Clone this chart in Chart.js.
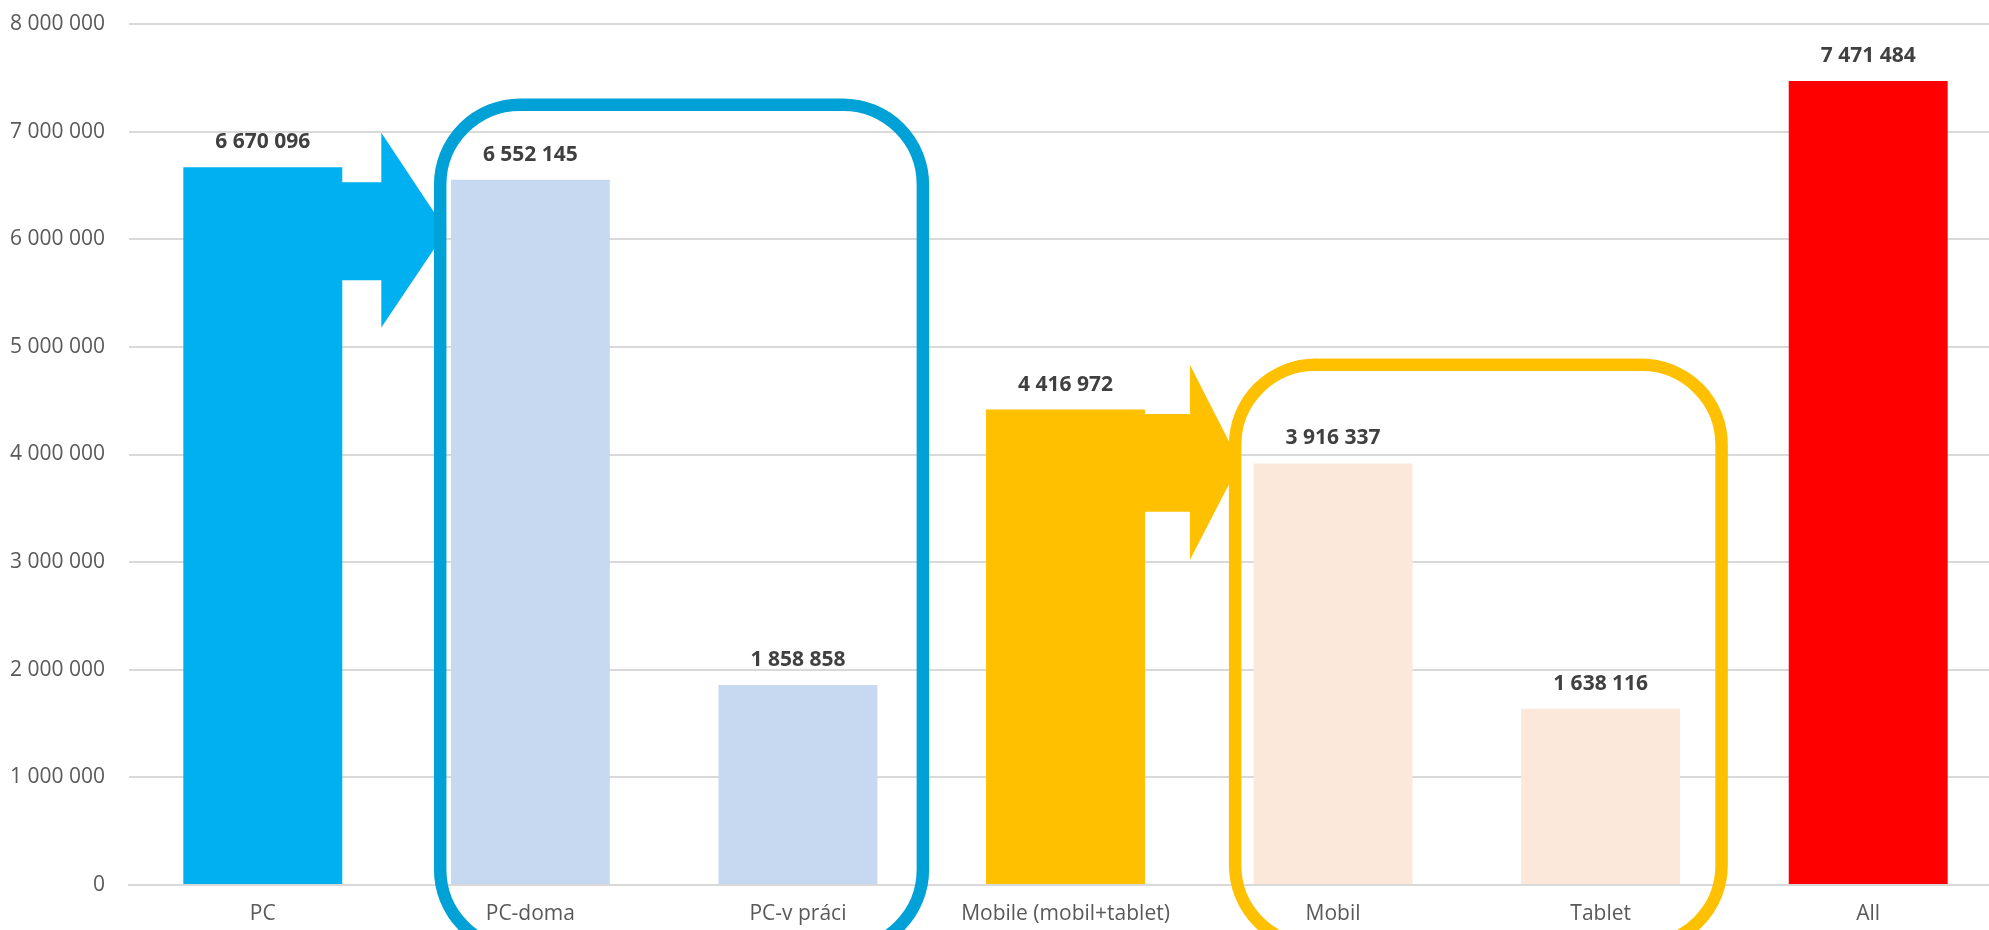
<!DOCTYPE html>
<html lang="cs">
<head>
    <meta charset="UTF-8">
    <title>PC vs Mobile</title>
    <script src="https://cdn.jsdelivr.net/npm/chart.js"></script>
    <style>
        html, body {
            margin: 0;
            padding: 0;
            background: #fff;
            overflow: hidden;
        }
        #wrap {
            width: 2002px;
            height: 930px;
        }
    </style>
</head>
<body>
    <div id="wrap">
        <canvas id="devChart" width="2002" height="930"></canvas>
    </div>

    <script>
        // data
        const categories = ['PC', 'PC-doma', 'PC-v práci', 'Mobile (mobil+tablet)', 'Mobil', 'Tablet', 'All'];
        const users = [6670096, 6552145, 1858858, 4416972, 3916337, 1638116, 7471484];
        const barColors = ['#00B0F0', '#C6D9F0', '#C6D9F0', '#FFC000', '#FBE8DA', '#FBE8DA', '#FF0000'];
        const yTicks = [0, 1000000, 2000000, 3000000, 4000000, 5000000, 6000000, 7000000, 8000000];

        // overlay shapes, in category index / axis value units
        const arrows = [
            { from: 0, base: 0.443, tip: 0.686, shaft: [6530000, 5620000], head: [6990000, 5180000], tipY: 6080000, color: '#00B0F0' },
            { from: 3, base: 3.465, tip: 3.652, shaft: [4377000, 3467000], head: [4833000, 3020000], tipY: 3920000, color: '#FFC000' }
        ];
        const boxes = [
            { x0: 0.663, x1: 2.467, top: 7250000, bottom: -600000, color: '#00A1D6' },
            { x0: 3.634, x1: 5.452, top: 4833000, bottom: -560000, color: '#FFC000' }
        ];

        function spaced(n) {
            return String(n).replace(/\B(?=(\d{3})+(?!\d))/g, ' ');
        }

        const overlay = {
            id: 'overlay',
            afterDatasetsDraw(chart) {
                const ctx = chart.ctx;
                const x = chart.scales.x, y = chart.scales.y;
                const bars = chart.getDatasetMeta(0).data;
                ctx.save();

                // arrows
                arrows.forEach(a => {
                    const x0 = bars[a.from].x;
                    const xb = x.getPixelForValue(a.base);
                    const xt = x.getPixelForValue(a.tip);
                    ctx.beginPath();
                    ctx.moveTo(x0, y.getPixelForValue(a.shaft[0]));
                    ctx.lineTo(xb, y.getPixelForValue(a.shaft[0]));
                    ctx.lineTo(xb, y.getPixelForValue(a.head[0]));
                    ctx.lineTo(xt, y.getPixelForValue(a.tipY));
                    ctx.lineTo(xb, y.getPixelForValue(a.head[1]));
                    ctx.lineTo(xb, y.getPixelForValue(a.shaft[1]));
                    ctx.lineTo(x0, y.getPixelForValue(a.shaft[1]));
                    ctx.closePath();
                    ctx.fillStyle = a.color;
                    ctx.fill();
                });

                // rounded group frames
                boxes.forEach(b => {
                    const l = x.getPixelForValue(b.x0), r = x.getPixelForValue(b.x1);
                    const t = y.getPixelForValue(b.top), btm = y.getPixelForValue(b.bottom);
                    ctx.beginPath();
                    ctx.roundRect(l, t, r - l, btm - t, 80);
                    ctx.lineWidth = 12.5;
                    ctx.strokeStyle = b.color;
                    ctx.stroke();
                });

                // value labels
                ctx.font = 'bold 21px "Open Sans"';
                ctx.fillStyle = '#404040';
                ctx.textAlign = 'center';
                ctx.textBaseline = 'middle';
                bars.forEach((bar, i) => {
                    ctx.fillText(spaced(users[i]), bar.x, bar.y - 25);
                });
                ctx.restore();
            }
        };

        const ctx = document.getElementById('devChart').getContext('2d');
        new Chart(ctx, {
            type: 'bar',
            data: {
                labels: categories,
                datasets: [{
                    data: users,
                    backgroundColor: barColors,
                    borderWidth: 0,
                    categoryPercentage: 1,
                    barPercentage: 0.594
                }]
            },
            options: {
                responsive: false,
                animation: false,
                devicePixelRatio: 1,
                layout: { padding: { top: 24, left: 0, right: 0, bottom: 0 } },
                plugins: {
                    legend: { display: false },
                    tooltip: { enabled: false }
                },
                scales: {
                    x: {
                        grid: { display: false, drawTicks: false },
                        border: { color: '#D9D9D9', width: 2 },
                        ticks: {
                            color: '#595959',
                            font: { family: '"Open Sans"', size: 21 },
                            padding: 16,
                            maxRotation: 0,
                            autoSkip: false
                        },
                        afterFit(scale) { scale.height = 45; }
                    },
                    y: {
                        min: 0,
                        max: 8000000,
                        afterBuildTicks(scale) {
                            scale.ticks = yTicks.map(v => ({ value: v }));
                        },
                        grid: { color: '#D9D9D9', lineWidth: 2, drawTicks: false },
                        border: { display: false },
                        ticks: {
                            color: '#595959',
                            font: { family: '"Open Sans"', size: 21 },
                            padding: 24,
                            callback: v => spaced(v)
                        },
                        afterFit(scale) {
                            // tick padding would otherwise also push the top down
                            scale.width = 129;
                            scale.paddingTop = 0;
                            scale.paddingBottom = 0;
                        }
                    }
                }
            },
            plugins: [overlay]
        });
    </script>
</body>
</html>
